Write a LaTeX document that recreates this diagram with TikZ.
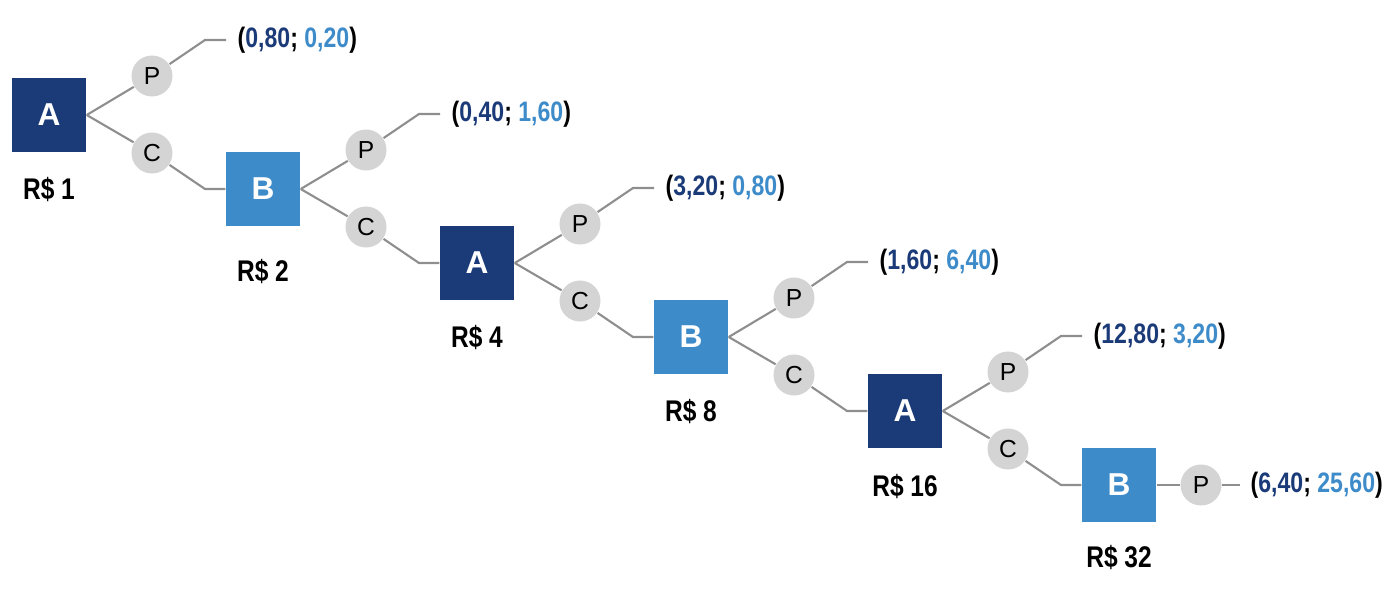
\documentclass[tikz,border=0pt]{standalone}
\usepackage{fontspec}
\setmainfont{Liberation Sans}
\newfontfamily\narrowfont[FakeStretch=0.82]{Liberation Sans}
\usetikzlibrary{positioning,calc}

\definecolor{darkblue}{HTML}{1B3A78}
\definecolor{lightblue}{HTML}{3E8BCA}
\definecolor{movegray}{HTML}{D4D4D4}
\definecolor{linegray}{HTML}{8E8E8E}

\tikzset{
	playerA/.style={rectangle, fill=darkblue, minimum size=0.74cm, inner sep=0pt, text=white, font=\fontsize{9}{9}\selectfont\bfseries},
	playerB/.style={playerA, fill=lightblue},
	move/.style={circle, fill=movegray, minimum size=0.41cm, inner sep=0pt, font=\fontsize{7}{7}\selectfont},
	pot/.style={inner sep=0pt, font=\narrowfont\fontsize{8.5}{8.5}\selectfont\bfseries},
	payoff/.style={anchor=west, inner sep=0pt, font=\narrowfont\fontsize{8}{8}\selectfont\bfseries},
	branch/.style={draw=linegray, line width=0.6pt},
}
\newcommand{\pay}[2]{(\textcolor{darkblue}{#1}; \textcolor{lightblue}{#2})}

\begin{document}
\begin{tikzpicture}[x=0.01cm, y=-0.01cm]
	\useasboundingbox (0,0) rectangle (1400,600);
	%Definitions%
	%===========================================================
	\def \dX {214}; %horizontal step between players
	\def \dY {74}; %vertical step between players
	%Players%
	%===========================================================
	\node[playerA] (sq1) at (49,115) {A};
	\node[playerB] (sq2) at ($(sq1)+(\dX,\dY)$) {B};
	\node[playerA] (sq3) at ($(sq2)+(\dX,\dY)$) {A};
	\node[playerB] (sq4) at ($(sq3)+(\dX,\dY)$) {B};
	\node[playerA] (sq5) at ($(sq4)+(\dX,\dY)$) {A};
	\node[playerB] (sq6) at ($(sq5)+(\dX,\dY)$) {B};
	%Pot below each player
	\node[pot] (pot1) at ($(sq1)+(0,75)$) {R\$ 1};
	\node[pot] (pot2) at ($(sq2)+(0,83)$) {R\$ 2};
	\node[pot] (pot3) at ($(sq3)+(0,75)$) {R\$ 4};
	\node[pot] (pot4) at ($(sq4)+(0,75)$) {R\$ 8};
	\node[pot] (pot5) at ($(sq5)+(0,76)$) {R\$ 16};
	\node[pot] (pot6) at ($(sq6)+(0,73)$) {R\$ 32};
	%Moves P (stop) and C (continue)%
	%===========================================================
	\foreach \i in {1,...,5}{
		\node[move] (p\i) at ($(sq\i)+(103,-39)$) {P};
		\node[move] (c\i) at ($(sq\i)+(103,38)$) {C};
		\coordinate (kp\i) at ($(sq\i)+(156,-75)$); %kink of P branch
		\coordinate (ep\i) at ($(sq\i)+(177,-75)$); %end of P branch
		\coordinate (kc\i) at ($(sq\i)+(156,\dY)$); %kink of C branch
		\draw[branch] (sq\i.east) -- (p\i);
		\draw[branch] (sq\i.east) -- (c\i);
		\draw[branch] (p\i) -- (kp\i) -- (ep\i);
	}
	\draw[branch] (c1) -- (kc1) -- (sq2.west);
	\draw[branch] (c2) -- (kc2) -- (sq3.west);
	\draw[branch] (c3) -- (kc3) -- (sq4.west);
	\draw[branch] (c4) -- (kc4) -- (sq5.west);
	\draw[branch] (c5) -- (kc5) -- (sq6.west);
	%last player can only stop
	\node[move] (p6) at ($(sq6)+(82,0)$) {P};
	\coordinate (ep6) at ($(sq6)+(121,0)$); %end of last branch
	\draw[branch] (sq6.east) -- (p6) -- (ep6);
	%Payoffs (A; B)%
	%===========================================================
	\node[payoff] (pay1) at ($(ep1)+(11,0)$) {\pay{0,80}{0,20}};
	\node[payoff] (pay2) at ($(ep2)+(11,0)$) {\pay{0,40}{1,60}};
	\node[payoff] (pay3) at ($(ep3)+(11,0)$) {\pay{3,20}{0,80}};
	\node[payoff] (pay4) at ($(ep4)+(11,0)$) {\pay{1,60}{6,40}};
	\node[payoff] (pay5) at ($(ep5)+(11,0)$) {\pay{12,80}{3,20}};
	\node[payoff] (pay6) at ($(ep6)+(10,0)$) {\pay{6,40}{25,60}};
\end{tikzpicture}
\end{document}
